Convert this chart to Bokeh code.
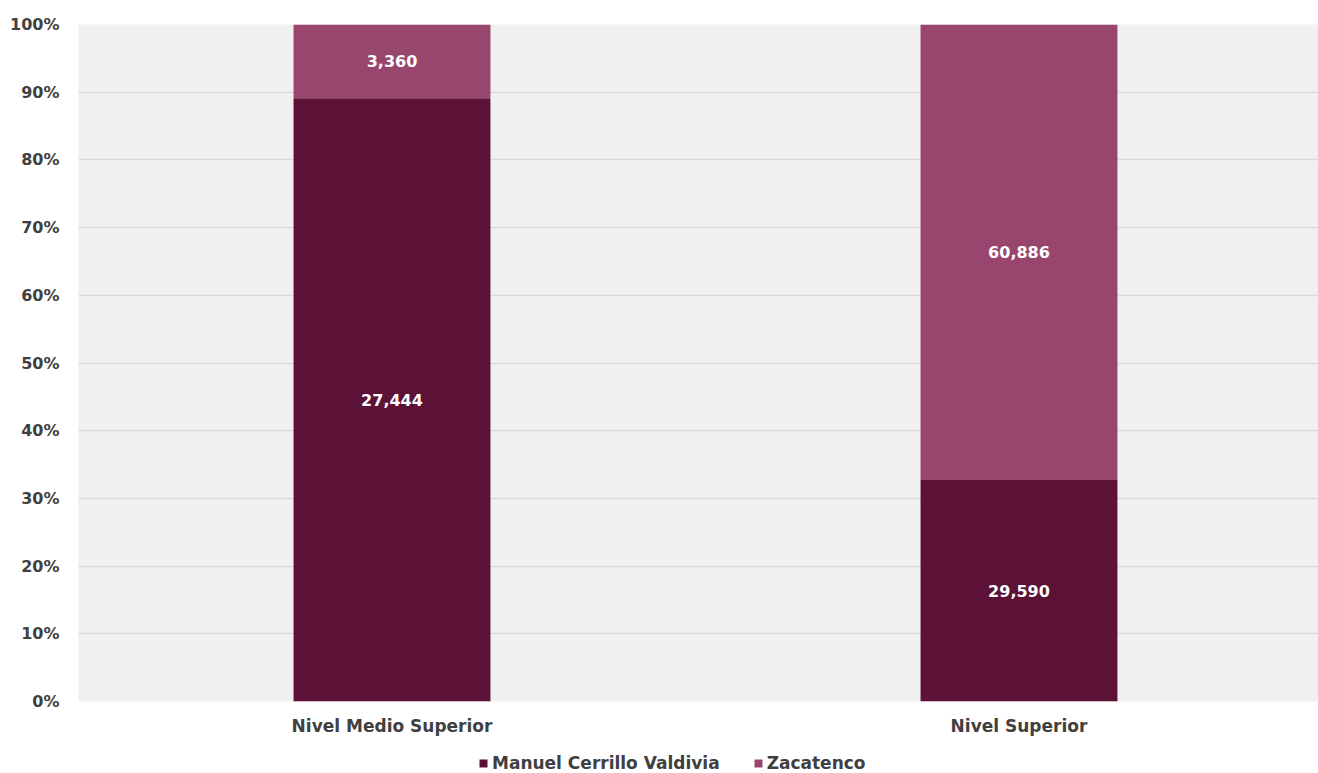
from bokeh.plotting import figure
from bokeh.layouts import column
from bokeh.models import ColumnDataSource, Legend, LegendItem, FixedTicker, NumeralTickFormatter, LabelSet, Range1d
from bokeh.core.properties import value
from bokeh.embed import file_html
from bokeh.resources import INLINE

categories = ["Nivel Medio Superior", "Nivel Superior"]
series_names = ["Manuel Cerrillo Valdivia", "Zacatenco"]
manuel = [27444, 29590]
zacatenco = [3360, 60886]
colors = ["#5C1136", "#98466E"]
y_ticks = [0, 0.1, 0.2, 0.3, 0.4, 0.5, 0.6, 0.7, 0.8, 0.9, 1.0]

FONT = "DejaVu Sans"
TXT = "#404040"

xs = list(range(len(categories)))
tot = [a + b for a, b in zip(manuel, zacatenco)]
m_frac = [a / t for a, t in zip(manuel, tot)]
z_frac = [b / t for b, t in zip(zacatenco, tot)]

src = ColumnDataSource(dict(
    x=xs,
    m_top=m_frac,
    z_bottom=m_frac,
    z_top=[1.0] * len(xs),
    m_mid=[f / 2 for f in m_frac],
    z_mid=[m + z / 2 for m, z in zip(m_frac, z_frac)],
    m_lab=[f"{v:,}" for v in manuel],
    z_lab=[f"{v:,}" for v in zacatenco],
))

p = figure(width=1318, height=745, output_backend="svg", toolbar_location=None,
           x_range=Range1d(-0.5, 1.4777), y_range=Range1d(0, 1),
           min_border_left=78, min_border_right=0, min_border_top=24, min_border_bottom=44)
p.outline_line_color = None
p.background_fill_color = "#F0F0F0"
p.border_fill_color = "white"

r1 = p.vbar(x="x", top="m_top", bottom=0, width=0.314, source=src,
            fill_color=colors[0], line_color=None)
r2 = p.vbar(x="x", top="z_top", bottom="z_bottom", width=0.314, source=src,
            fill_color=colors[1], line_color=None)

for ycol, tcol in (("m_mid", "m_lab"), ("z_mid", "z_lab")):
    p.add_layout(LabelSet(x="x", y=ycol, text=tcol, source=src,
                          text_align="center", text_baseline="middle",
                          text_color="white", text_font=value(FONT),
                          text_font_style="bold", text_font_size="16px"))

p.xgrid.grid_line_color = None
p.ygrid.grid_line_color = "#D9D9D9"
p.ygrid.grid_line_width = 1.5
p.ygrid.ticker = FixedTicker(ticks=y_ticks)

p.yaxis.ticker = FixedTicker(ticks=y_ticks)
p.yaxis.formatter = NumeralTickFormatter(format="0%")
p.yaxis.axis_line_color = None
p.yaxis.major_tick_line_color = None
p.yaxis.minor_tick_line_color = None
p.yaxis.major_label_text_font = FONT
p.yaxis.major_label_text_font_style = "bold"
p.yaxis.major_label_text_font_size = "16px"
p.yaxis.major_label_text_color = TXT
p.yaxis.major_label_standoff = 13

p.xaxis.ticker = FixedTicker(ticks=xs)
p.xaxis.major_label_overrides = {i: c for i, c in zip(xs, categories)}
p.xaxis.axis_line_color = None
p.xaxis.major_tick_line_color = None
p.xaxis.minor_tick_line_color = None
p.xaxis.major_label_text_font = FONT
p.xaxis.major_label_text_font_style = "bold"
p.xaxis.major_label_text_font_size = "17px"
p.xaxis.major_label_text_color = TXT
p.xaxis.major_label_standoff = 8

# legend strip below the chart (its ranges keep the swatch renderers out of view)
lf = figure(width=1318, height=28, output_backend="svg", toolbar_location=None,
            x_range=Range1d(10, 11), y_range=Range1d(10, 11),
            x_axis_location=None, y_axis_location=None,
            min_border=0, min_border_left=0, min_border_right=0,
            min_border_top=0, min_border_bottom=0)
lf.outline_line_color = None
lf.background_fill_color = "white"
lf.border_fill_color = "white"
lf.xgrid.visible = False
lf.ygrid.visible = False
k1 = lf.vbar(x="x", top="m_top", bottom=0, width=0.314, source=src,
             fill_color=colors[0], line_color=None)
k2 = lf.vbar(x="x", top="z_top", bottom="z_bottom", width=0.314, source=src,
             fill_color=colors[1], line_color=None)

legend = Legend(items=[LegendItem(label=series_names[0], renderers=[k1]),
                       LegendItem(label=series_names[1], renderers=[k2])],
                orientation="horizontal", location=(400, 0),
                label_text_font=FONT, label_text_font_style="bold",
                label_text_font_size="17px", label_text_color=TXT,
                glyph_width=10, glyph_height=10, label_height=16,
                label_standoff=4, spacing=33,
                padding=0, margin=0, border_line_color=None,
                background_fill_alpha=0)
lf.add_layout(legend, "center")

layout = column(p, lf, spacing=0)
open("out.html", "w").write(file_html(layout, INLINE))
